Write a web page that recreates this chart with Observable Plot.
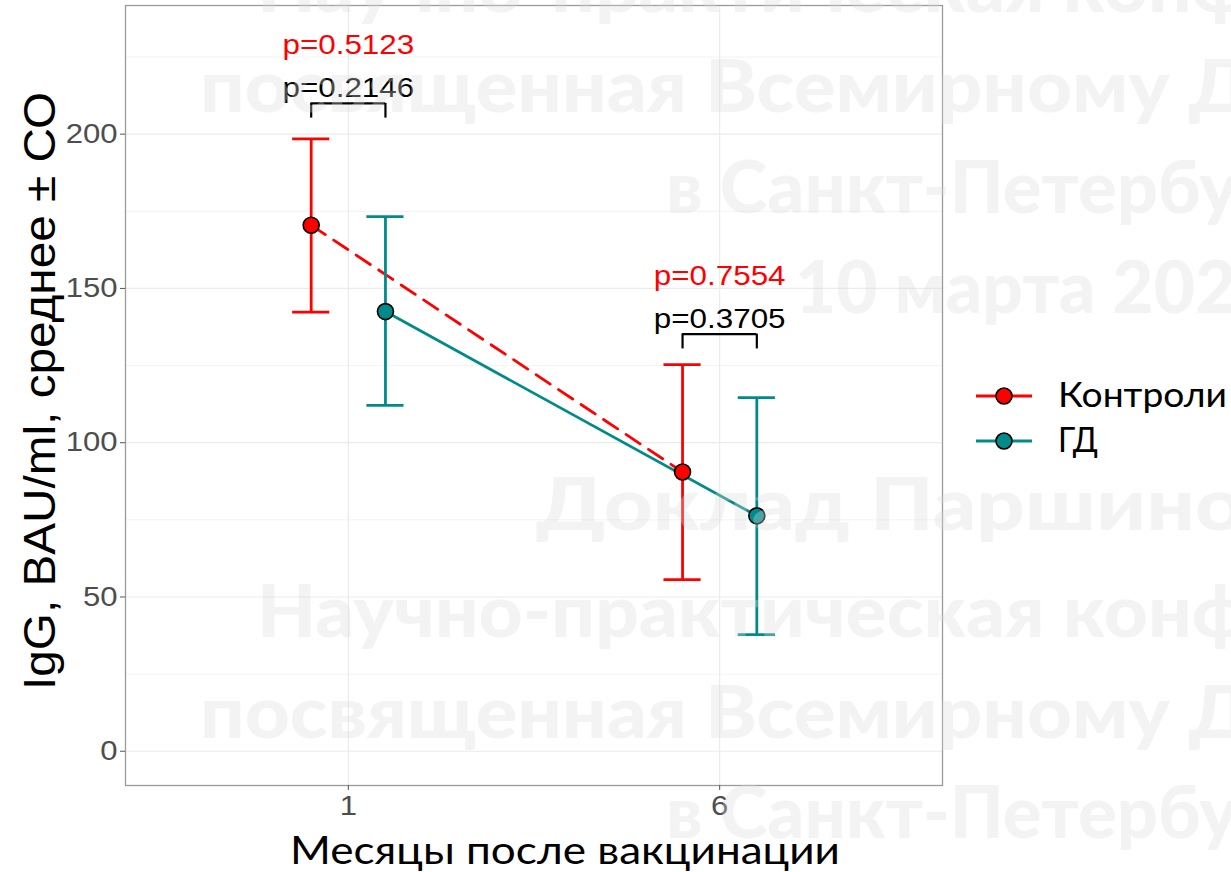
<!DOCTYPE html>
<html><head><meta charset="utf-8">
<script src="https://cdn.jsdelivr.net/npm/d3@7"></script>
<script src="https://cdn.jsdelivr.net/npm/@observablehq/plot@0.6"></script>
<style>
html,body{margin:0;padding:0;background:#fff;overflow:hidden;width:1231px;height:872px;}
#wrap{position:relative;width:1231px;height:872px;overflow:hidden;}
#wrap svg.ov{position:absolute;left:0;top:0;pointer-events:none;}
</style></head><body><div id="wrap"></div>
<script>
// ---- data ----
const months = ["1", "6"];
const groups = ["Контроли", "ГД"];
const groupColors = ["#ff0000", "#008b8b"];
const controlMean = [170.5, 90.5];
const controlLow = [142.3, 55.6];
const controlHigh = [198.5, 125.3];
const hdMean = [142.5, 76.3];
const hdLow = [112.1, 37.8];
const hdHigh = [173.3, 114.6];
const pBetween = ["p=0.2146", "p=0.3705"];
const pRed = ["p=0.5123", "p=0.7554"];
const bracketY = [210, 135.2];
const yTicks = [0, 50, 100, 150, 200];
const yMinor = [25, 75, 125, 175, 225];
const xTitle = "Месяцы после вакцинации";
const yTitle = "IgG, BAU/ml, среднее ± СО";
const watermark = [
  "Научно-практическая конференция",
  "посвященная Всемирному Дню",
  "в Санкт-Петербурге",
  "10 марта 202",
  "Доклад Паршино",
  "Научно-практическая конференция",
  "посвященная Всемирному Дню",
  "в Санкт-Петербурге"
];

// ---- build table ----
const dodge = 0.1;
const series = [
  {mean: controlMean, low: controlLow, high: controlHigh},
  {mean: hdMean, low: hdLow, high: hdHigh}
];
const rows = [];
series.forEach((s, gi) => months.forEach((m, mi) => rows.push({
  group: groups[gi], month: m,
  x: mi + 1 + (gi === 0 ? -dodge : dodge),
  mean: s.mean[mi], low: s.low[mi], high: s.high[mi]
})));
const brackets = months.map((m, i) => ({i: i + 1, y: bracketY[i], pb: pBetween[i], pr: pRed[i]}));
const capW = 0.05;

const W = 1231, H = 872;
const plot = Plot.plot({
  width: W, height: H,
  marginLeft: 125, marginRight: 289, marginTop: 5, marginBottom: 87,
  style: {fontFamily: "'Liberation Sans', Arial, sans-serif", fontSize: "27px", background: "#fff"},
  x: {domain: [0.4, 2.6]},
  y: {domain: [-11.1, 241.7]},
  color: {domain: groups, range: groupColors},
  marks: [
    Plot.gridY(yMinor, {stroke: "#f0f0f0", strokeOpacity: 1, strokeWidth: 0.8}),
    Plot.gridY(yTicks, {stroke: "#ebebeb", strokeOpacity: 1, strokeWidth: 1.2}),
    Plot.gridX([1, 2], {stroke: "#ebebeb", strokeOpacity: 1, strokeWidth: 1.2}),
    Plot.frame({stroke: "#9a9a9a", strokeWidth: 1.3}),
    Plot.axisY(yTicks, {tickSize: 5, tickPadding: 3, fontSize: 27, fill: "#4d4d4d", stroke: "#555", label: null}),
    Plot.axisX([1, 2], {tickSize: 5, tickPadding: 5, fontSize: 27, fill: "#4d4d4d", stroke: "#555", label: null, tickFormat: d => months[d - 1]}),
    Plot.line(rows.filter(d => d.group === groups[0]), {x: "x", y: "mean", stroke: groupColors[0], strokeWidth: 2.8, strokeDasharray: "17,10"}),
    Plot.line(rows.filter(d => d.group === groups[1]), {x: "x", y: "mean", stroke: groupColors[1], strokeWidth: 2.8}),
    Plot.ruleX(rows, {x: "x", y1: "low", y2: "high", stroke: "group", strokeWidth: 2.8}),
    Plot.ruleY(rows, {y: "high", x1: d => d.x - capW, x2: d => d.x + capW, stroke: "group", strokeWidth: 2.8}),
    Plot.ruleY(rows, {y: "low", x1: d => d.x - capW, x2: d => d.x + capW, stroke: "group", strokeWidth: 2.8}),
    Plot.dot(rows, {x: "x", y: "mean", r: 8, fill: "group", stroke: "#000", strokeWidth: 1.6}),
    Plot.ruleY(brackets, {y: "y", x1: d => d.i - dodge, x2: d => d.i + dodge, stroke: "#000", strokeWidth: 2.2}),
    Plot.ruleX(brackets, {x: d => d.i - dodge, y1: d => d.y - 4.8, y2: "y", stroke: "#000", strokeWidth: 2.2}),
    Plot.ruleX(brackets, {x: d => d.i + dodge, y1: d => d.y - 4.8, y2: "y", stroke: "#000", strokeWidth: 2.2}),
    Plot.text(brackets, {x: "i", y: "y", text: "pb", lineAnchor: "bottom", dy: -6, fontSize: 28, fill: "#000"}),
    Plot.text(brackets, {x: "i", y: "y", text: "pr", lineAnchor: "bottom", dy: -49, fontSize: 28, fill: "#ff0000"})
  ]
});
const wrap = document.getElementById("wrap");
wrap.appendChild(plot);

const svg = d3.select(plot);
function stretch(sel, f) {
  sel.each(function () {
    const len = this.getComputedTextLength();
    if (len > 0) { this.setAttribute("textLength", len * f); this.setAttribute("lengthAdjust", "spacingAndGlyphs"); }
  });
}
stretch(svg.selectAll("g[aria-label='y-axis tick label'] text"), 1.15);
stretch(svg.selectAll("g[aria-label='x-axis tick label'] text"), 1.15);
stretch(svg.selectAll("g[aria-label='text'] text"), 1.12);

// axis titles
svg.append("text").text(xTitle)
  .attr("x", 565).attr("y", 864).attr("text-anchor", "middle")
  .attr("font-family", "Lato, 'Open Sans', sans-serif").attr("font-size", 39).attr("fill", "#000")
  .attr("textLength", 550).attr("lengthAdjust", "spacingAndGlyphs");
svg.append("text").text(yTitle)
  .attr("transform", "translate(55,391) rotate(-90)").attr("text-anchor", "middle")
  .attr("font-family", "'Liberation Sans', Arial, sans-serif").attr("font-size", 45).attr("fill", "#000")
  .attr("textLength", 598).attr("lengthAdjust", "spacingAndGlyphs");

// legend
const leg = svg.append("g").attr("aria-label", "legend");
const legY = [396, 441], legW = [169, 40];
groups.forEach((g, i) => {
  leg.append("line").attr("x1", 976).attr("x2", 1032).attr("y1", legY[i]).attr("y2", legY[i])
    .attr("stroke", groupColors[i]).attr("stroke-width", 2.8);
  leg.append("circle").attr("cx", 1004).attr("cy", legY[i]).attr("r", 8)
    .attr("fill", groupColors[i]).attr("stroke", "#000").attr("stroke-width", 1.6);
  leg.append("text").text(g).attr("x", 1058).attr("y", legY[i] + 11).attr("text-anchor", "start")
    .attr("font-family", "Lato, 'Open Sans', sans-serif").attr("font-size", 34).attr("fill", "#000")
    .attr("textLength", legW[i]).attr("lengthAdjust", "spacingAndGlyphs");
});

// watermark overlay (x start, baseline, measured prefix, prefix width)
const ov = d3.select(wrap).append("svg").attr("class", "ov").attr("width", W).attr("height", H);
const wmPos = [
  [257, 12, "Научно-практическая кон", 935],
  [200, 112, "посвященная Всемирному", 970],
  [666, 213, "в Санкт-Петерб", 535],
  [795, 313, "10 марта 20", 400],
  [536, 530, "Доклад Паршин", 659],
  [257, 637, "Научно-практическая кон", 935],
  [200, 738, "посвященная Всемирному", 970],
  [666, 838, "в Санкт-Петерб", 535]
];
watermark.forEach((t, i) => {
  const [x0, y0, pre, pw] = wmPos[i];
  const probe = ov.append("text").text(pre).attr("font-family", "Lato, sans-serif").attr("font-weight", 900).attr("font-size", 72);
  const sx = pw / probe.node().getComputedTextLength();
  probe.remove();
  ov.append("text").text(t)
    .attr("transform", `translate(${x0},${y0}) scale(${sx},1)`)
    .attr("text-anchor", "start")
    .attr("font-family", "Lato, sans-serif").attr("font-weight", 900).attr("font-size", 72)
    .attr("fill", "#dcdcdc").attr("fill-opacity", 0.33);
});
</script></body></html>
